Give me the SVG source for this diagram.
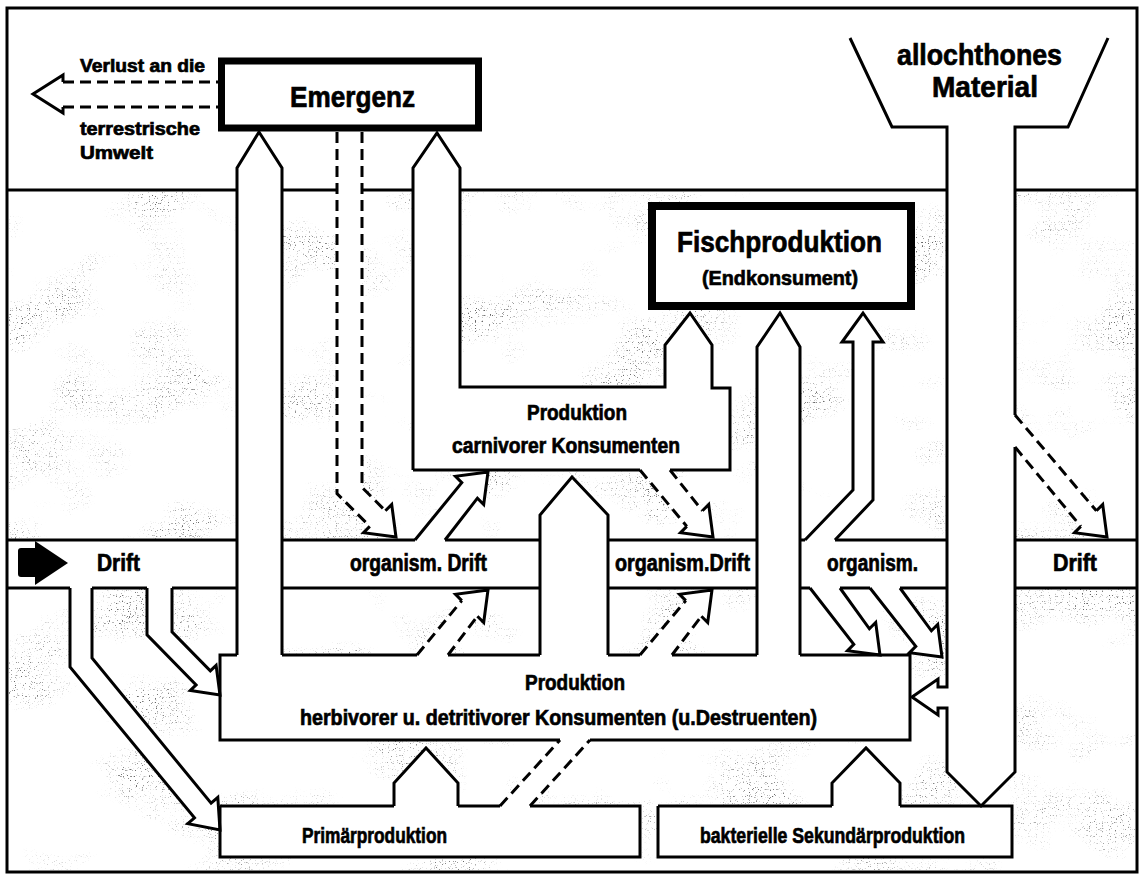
<svg xmlns="http://www.w3.org/2000/svg" width="1145" height="876" viewBox="0 0 1145 876">
<defs>
<style>
.ln{fill:none;stroke:#000;stroke-width:3;stroke-linejoin:miter;stroke-linecap:butt}
.ds{stroke-dasharray:11 6}
.thick{fill:#fff;stroke:#000;stroke-width:7}
.t{font-family:"Liberation Sans",Arial,sans-serif;font-weight:bold;fill:#000;stroke:#000;stroke-width:0.7}
.wf{fill:#fff;stroke:none}
</style>
<filter id="spk" filterUnits="userSpaceOnUse" x="9" y="192" width="1126" height="678" color-interpolation-filters="sRGB">
<feTurbulence type="fractalNoise" baseFrequency="0.85" numOctaves="1" seed="5" result="n"/>
<feColorMatrix in="n" type="matrix" values="0 0 0 0 0.4 0 0 0 0 0.4 0 0 0 0 0.4 10 0 0 0 -6.3" result="d"/>
<feTurbulence type="fractalNoise" baseFrequency="0.01 0.014" numOctaves="3" seed="11" result="c"/>
<feColorMatrix in="c" type="matrix" values="0 0 0 0 0 0 0 0 0 0 0 0 0 0 0 4 0 0 0 -2.05" result="m"/>
<feComposite in="d" in2="m" operator="in"/>
</filter>
</defs>
<rect x="0" y="0" width="1145" height="876" fill="#fff"/>
<rect x="9" y="192" width="1126" height="678" fill="#000" filter="url(#spk)"/>

<g id="white-areas" class="wf">
<rect x="9" y="540" width="1126" height="48"/>
<rect x="220" y="655" width="690" height="85"/>
<rect x="220" y="806" width="420" height="51"/>
<rect x="658" y="806" width="354" height="51"/>
<polygon points="413,470 413,168 437,133 460,168 460,387 665,387 665,345 690,313 712,345 712,388 730,388 730,470"/>
<polygon points="237,655 237,168 259,132 282,168 282,655"/>
<polygon points="540,655 540,515 572,477 608,515 608,655"/>
<polygon points="757,655 757,347 780,313 800,347 800,655"/>
<polygon points="805,540 853,490 853,342 842,342 863,313 883,342 873,342 873,500 835,540"/>
<polygon points="947,127 947,772 981,806 1015,772 1015,127"/>
<polygon points="947,687 938,687 938,679 912,697 938,715 938,708 947,708"/>
<polygon points="1015,415 1096.4,510.8 1102.7,504.5 1107,537 1074.5,532.7 1080.8,526.4 1015,447"/>
<polygon points="362,131 362,487.4 385.4,510.8 391.7,504.5 396,537 363.5,532.7 369.8,526.4 337,493.6 337,131"/>
<polygon points="415,540 461.8,482.6 455.5,476.3 488,472 483.7,504.5 477.4,498.2 445,540"/>
<polygon points="670,470 702.4,510.8 708.7,504.5 713,537 680.5,532.7 686.8,526.4 640,470"/>
<polygon points="417,655 461.8,600.6 455.5,594.3 488,590 483.7,622.5 477.4,616.2 448,655"/>
<polygon points="640,655 685.8,600.6 679.5,594.3 712,590 707.7,622.5 701.4,616.2 672,655"/>
<polygon points="500,806 560,740 590,740 530,806"/>
<polygon points="70,588 70,667 194.5,817.8 187.8,823.7 220,830 217.8,797.3 211.1,803.2 92,658 92,588"/>
<polygon points="147,588 147,634.8 196.1,684.9 190.3,690.5 220,695 216.1,665.3 210.3,670.9 172,631.8 172,588"/>
<polygon points="810,588 853.8,644.4 847.5,650.7 880,655 875.7,622.5 869.4,628.8 840,588"/>
<polygon points="870,588 915.8,646.4 909.5,652.7 942,657 937.7,624.5 931.4,630.8 900,588"/>
<polygon points="394,806 394,783 426,748 458,783 458,806"/>
<polygon points="832,806 832,783 866,748 900,783 900,806"/>
</g>

<g id="frame">
<rect x="7" y="8" width="1130" height="864" class="ln"/>
<path class="ln" d="M7 190 H237 M282 190 H337 M362 190 H413 M460 190 H947 M1015 190 H1137"/>
</g>

<g id="drift-band">
<path class="ln" d="M7 540 H237 M282 540 H415 M445 540 H540 M608 540 H757 M800 540 H805 M835 540 H947 M1015 540 H1137"/>
<path class="ln" d="M7 588 H70 M92 588 H147 M172 588 H237 M282 588 H540 M608 588 H757 M800 588 H810 M840 588 H870 M900 588 H947 M1015 588 H1137"/>
<path d="M18 551 Q18 548 21 548 H35 V541 L68 563 L35 585 V577 H21 Q18 577 18 574 Z" fill="#000"/>
<text class="t" x="97" y="571" font-size="23" textLength="43" lengthAdjust="spacingAndGlyphs">Drift</text>
<text class="t" x="350" y="571" font-size="23" textLength="137" lengthAdjust="spacingAndGlyphs">organism. Drift</text>
<text class="t" x="615" y="571" font-size="23" textLength="135" lengthAdjust="spacingAndGlyphs">organism.Drift</text>
<text class="t" x="827" y="571" font-size="23" textLength="91" lengthAdjust="spacingAndGlyphs">organism.</text>
<text class="t" x="1053" y="571" font-size="23" textLength="44" lengthAdjust="spacingAndGlyphs">Drift</text>
</g>

<g id="emergenz">
<rect x="221.5" y="61" width="257" height="67" class="thick"/>
<text class="t" x="290" y="107" font-size="29" textLength="125" lengthAdjust="spacingAndGlyphs">Emergenz</text>
</g>

<g id="verlust">
<text class="t" x="80" y="72" font-size="18" textLength="125" lengthAdjust="spacingAndGlyphs">Verlust an die</text>
<text class="t" x="80" y="135" font-size="18" textLength="120" lengthAdjust="spacingAndGlyphs">terrestrische</text>
<text class="t" x="80" y="159" font-size="18" textLength="73" lengthAdjust="spacingAndGlyphs">Umwelt</text>
</g>

<g id="allochthones">
<text class="t" x="897" y="65" font-size="29" textLength="165" lengthAdjust="spacingAndGlyphs">allochthones</text>
<text class="t" x="932" y="97" font-size="29" textLength="106" lengthAdjust="spacingAndGlyphs">Material</text>
</g>

<g id="fisch">
<rect x="652" y="206" width="259" height="100" class="thick" style="stroke-width:8"/>
<text class="t" x="677" y="252" font-size="30" textLength="205" lengthAdjust="spacingAndGlyphs">Fischproduktion</text>
<text class="t" x="702" y="285" font-size="21" textLength="156" lengthAdjust="spacingAndGlyphs">(Endkonsument)</text>
</g>

<g id="carnivore">
<path class="ln" d="M413 470 V168 L437 133 L460 168 V387 H665 V345 L690 313 L712 345 V388 H730 V470 H670 M640 470 H413"/>
<text class="t" x="527" y="420" font-size="22" textLength="100" lengthAdjust="spacingAndGlyphs">Produktion</text>
<text class="t" x="452" y="453" font-size="22" textLength="228" lengthAdjust="spacingAndGlyphs">carnivorer Konsumenten</text>
</g>

<g id="herbivore">
<path class="ln" d="M237 655 H220 V740 H560 M590 740 H910 V655 H800 M757 655 H672 M640 655 H608 M540 655 H448 M417 655 H282"/>
<text class="t" x="525" y="690" font-size="22" textLength="100" lengthAdjust="spacingAndGlyphs">Produktion</text>
<text class="t" x="300" y="725" font-size="22" textLength="517" lengthAdjust="spacingAndGlyphs">herbivorer u. detritivorer Konsumenten (u.Destruenten)</text>
</g>

<g id="primaer">
<path class="ln" d="M220 806 V857 H640 V806 H530 M500 806 H458 M394 806 H220"/>
<text class="t" x="302" y="843" font-size="22" textLength="145" lengthAdjust="spacingAndGlyphs">Primärproduktion</text>
</g>

<g id="bakteriell">
<path class="ln" d="M658 806 V857 H1012 V806 H900 M832 806 H658"/>
<text class="t" x="700" y="843" font-size="22" textLength="265" lengthAdjust="spacingAndGlyphs">bakterielle Sekundärproduktion</text>
</g>

<g id="connectors">
<path class="ln" d="M63 82 L63 75 L33 94 L63 113 L63 107"/>
<path class="ln ds" d="M63 82 H218 M63 107 H218"/>
<path class="ln" d="M237 655 V168 L259 132 L282 168 V655"/>
<path class="ln" d="M540 655 V515 L572 477 L608 515 V655"/>
<path class="ln" d="M757 655 V347 L780 313 L800 347 V655"/>
<path class="ln" d="M805 540 L853 490 V342 H842 L863 313 L883 342 H873 V500 L835 540"/>
<path class="ln" d="M850 38 L892 127 H947 V687 H938 V679 L912 697 L938 715 V708 H947 V772 L981 806 L1015 772 V447 M1015 415 V127 H1068 L1108 38"/>
<path class="ln ds" d="M1015 415 L1096.4 510.8 M1015 447 L1080.8 526.4"/>
<path class="ln" d="M1096.4 510.8 L1102.7 504.5 L1107 537 L1074.5 532.7 L1080.8 526.4"/>
<path class="ln ds" d="M337 132 V493.6 L369.8 526.4 M362 132 V487.4 L385.4 510.8"/>
<path class="ln" d="M385.4 510.8 L391.7 504.5 L396 537 L363.5 532.7 L369.8 526.4"/>
<path class="ln" d="M415 540 L461.8 482.6 L455.5 476.3 L488 472 L483.7 504.5 L477.4 498.2 L445 540"/>
<path class="ln ds" d="M670 470 L702.4 510.8 M640 470 L686.8 526.4"/>
<path class="ln" d="M702.4 510.8 L708.7 504.5 L713 537 L680.5 532.7 L686.8 526.4"/>
<path class="ln ds" d="M417 655 L461.8 600.6 M448 655 L477.4 616.2"/>
<path class="ln" d="M461.8 600.6 L455.5 594.3 L488 590 L483.7 622.5 L477.4 616.2"/>
<path class="ln ds" d="M640 655 L685.8 600.6 M672 655 L701.4 616.2"/>
<path class="ln" d="M685.8 600.6 L679.5 594.3 L712 590 L707.7 622.5 L701.4 616.2"/>
<path class="ln ds" d="M500 806 L560 740 M530 806 L590 740"/>
<path class="ln" d="M70 588 V667 L194.5 817.8 L187.8 823.7 L220 830 L217.8 797.3 L211.1 803.2 L92 658 V588"/>
<path class="ln" d="M147 588 V634.8 L196.1 684.9 L190.3 690.5 L220 695 L216.1 665.3 L210.3 670.9 L172 631.8 V588"/>
<path class="ln" d="M810 588 L853.8 644.4 L847.5 650.7 L880 655 L875.7 622.5 L869.4 628.8 L840 588"/>
<path class="ln" d="M870 588 L915.8 646.4 L909.5 652.7 L942 657 L937.7 624.5 L931.4 630.8 L900 588"/>
<path class="ln" d="M394 806 V783 L426 748 L458 783 V806"/>
<path class="ln" d="M832 806 V783 L866 748 L900 783 V806"/>
</g>
</svg>
